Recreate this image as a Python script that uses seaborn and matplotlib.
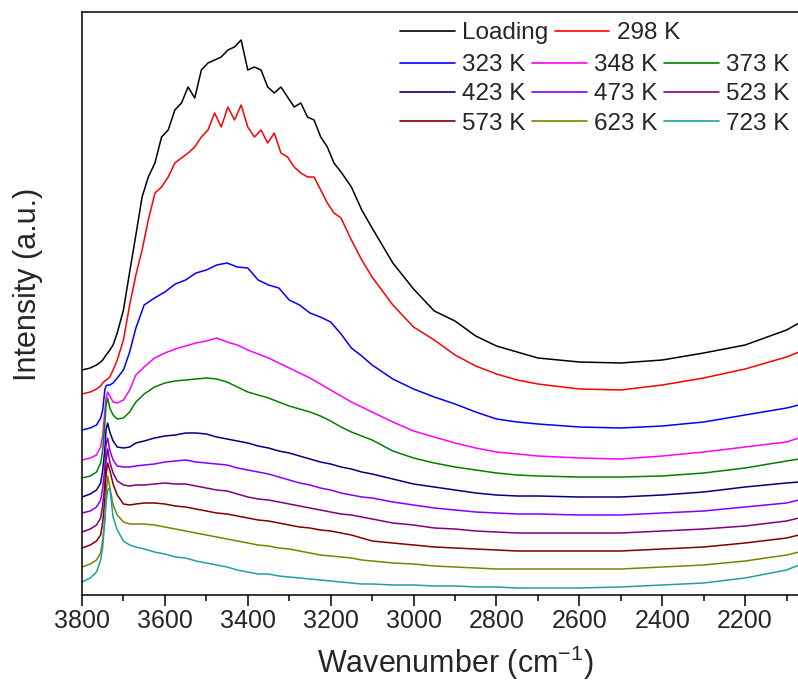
import numpy as np
import pandas as pd
import seaborn as sns
import matplotlib.pyplot as plt
from matplotlib.lines import Line2D
from matplotlib.ticker import MultipleLocator

# wavenumber grid (cm-1) for the two noisy top spectra
wn_top = [3800, 3780, 3765, 3755, 3750, 3745, 3742, 3738, 3733, 3725, 3715, 3700, 3685, 3670,
          3655, 3640, 3624, 3608, 3592, 3576, 3560, 3544, 3528, 3512, 3496, 3480, 3464, 3448,
          3432, 3416, 3400, 3384, 3368, 3352, 3336, 3320, 3304, 3288, 3272, 3256, 3240, 3224,
          3208, 3192, 3175, 3150, 3125, 3100, 3050, 3000, 2950, 2900, 2850, 2800, 2750, 2700,
          2600, 2500, 2400, 2300, 2200, 2100, 2070]
loading = [230, 232, 235, 238, 240, 243, 245, 247, 250, 255, 267, 290, 328, 365, 403,
           423, 437, 463, 470, 490, 497, 513, 502, 530, 537, 540, 543, 550, 553, 560, 530,
           533, 530, 513, 507, 513, 503, 493, 497, 483, 480, 463, 453, 437,
           428, 413, 390, 372, 337, 311, 289, 279, 264, 254, 248, 242, 238, 237, 240, 247,
           255, 270, 277]
t298 = [206, 208, 211, 214, 217, 219, 220, 221, 223, 230, 240, 260, 295, 325, 350,
        380, 407, 413, 423, 437, 442, 447, 453, 463, 470, 487, 473, 493, 480, 495, 473,
        463, 470, 457, 467, 447, 443, 433, 427, 423, 423, 410, 397, 387,
        382, 360, 340, 323, 295, 273, 260, 245, 234, 226, 220, 216, 211, 210, 215, 222,
        231, 243, 248]

# wavenumber grid (cm-1) for the heated spectra
wavenumber = [3800, 3780, 3765, 3755, 3750, 3745, 3742, 3738, 3733, 3725, 3715, 3700, 3685,
              3670, 3650, 3625, 3600, 3575, 3550, 3525, 3500, 3475, 3450, 3425, 3400, 3375,
              3350, 3325, 3300, 3275, 3250, 3225, 3200, 3175, 3150, 3125, 3100, 3050, 3000,
              2950, 2900, 2850, 2800, 2750, 2700, 2600, 2500, 2400, 2300, 2200, 2100, 2070]
t323 = [170, 172, 175, 182, 190, 210, 214, 215, 215, 217, 222, 230, 248, 272, 295, 302, 308,
        316, 320, 327, 330, 335, 337, 333, 332, 320, 315, 312, 300, 295, 287, 283, 278, 266,
        252, 244, 235, 221, 211, 203, 196, 188, 181, 178, 176, 173, 172, 174, 178, 185, 192, 195]
t348 = [140, 142, 145, 153, 165, 188, 202, 208, 204, 198, 197, 200, 210, 225, 233, 242, 247,
        251, 254, 257, 259, 262, 258, 255, 250, 246, 242, 237, 232, 227, 222, 216, 210, 204,
        198, 193, 188, 178, 169, 163, 157, 152, 148, 146, 144, 142, 141, 144, 148, 153, 158, 162]
t373 = [122, 124, 128, 137, 150, 175, 195, 202, 192, 185, 181, 182, 188, 198, 206, 213, 217,
        219, 220, 221, 222, 221, 218, 213, 208, 205, 202, 198, 194, 191, 188, 184, 179, 173,
        168, 164, 160, 149, 142, 137, 133, 130, 127, 125, 124, 123, 123, 124, 127, 132, 139, 141]
t423 = [103, 106, 110, 117, 130, 150, 170, 177, 168, 159, 153, 152, 153, 157, 159, 162, 164,
        165, 167, 167, 166, 163, 161, 159, 157, 154, 152, 149, 147, 144, 141, 138, 136, 133,
        131, 128, 126, 121, 116, 113, 110, 107, 105, 104, 104, 103, 103, 105, 108, 113, 117, 118]
t473 = [87, 89, 93, 100, 112, 132, 155, 162, 150, 140, 134, 133, 133, 134, 135, 136, 138,
        139, 140, 138, 137, 136, 135, 132, 130, 128, 126, 123, 120, 117, 115, 112, 110, 107,
        105, 103, 102, 98, 95, 92, 90, 88, 87, 86, 86, 85, 85, 87, 89, 93, 97, 100]
t523 = [68, 71, 75, 82, 95, 115, 140, 151, 138, 127, 119, 115, 114, 115, 115, 116, 117,
        116, 116, 114, 112, 110, 109, 106, 103, 101, 100, 98, 96, 94, 92, 90, 88, 86,
        85, 83, 81, 77, 75, 72, 71, 69, 68, 67, 67, 67, 67, 69, 71, 74, 79, 82]
t573 = [52, 55, 59, 65, 78, 100, 125, 137, 130, 116, 105, 96, 95, 96, 97, 97, 96,
        94, 93, 91, 89, 87, 86, 84, 82, 80, 79, 77, 75, 73, 72, 70, 69, 67,
        65, 62, 59, 57, 55, 53, 52, 51, 50, 49, 49, 49, 49, 51, 53, 57, 62, 65]
t623 = [33, 36, 40, 47, 60, 80, 105, 124, 113, 95, 85, 78, 76, 76, 76, 75, 73,
        71, 69, 67, 65, 63, 61, 59, 57, 55, 54, 52, 51, 49, 47, 45, 44, 43,
        42, 40, 39, 37, 36, 34, 33, 32, 31, 31, 31, 31, 31, 33, 35, 39, 45, 48]
t723 = [18, 22, 28, 40, 53, 80, 97, 110, 112, 83, 70, 59, 55, 53, 51, 48, 46,
        43, 42, 39, 37, 35, 33, 30, 28, 26, 26, 24, 23, 22, 21, 20, 19, 18,
        17, 16, 16, 15, 15, 14, 14, 13, 13, 12, 12, 12, 13, 15, 17, 22, 30, 35]

labels = ['Loading', '298 K', '323 K', '348 K', '373 K', '423 K',
          '473 K', '523 K', '573 K', '623 K', '723 K']
colors = ['#000000', '#FF0000', '#0000FF', '#FF00FF', '#008000', '#000080',
          '#8000FF', '#800080', '#800000', '#808000', '#20A0A0']
xticks = [3800, 3600, 3400, 3200, 3000, 2800, 2600, 2400, 2200]

top = [loading, t298]
heated = [t323, t348, t373, t423, t473, t523, t573, t623, t723]
df = pd.concat([
    pd.DataFrame({'wavenumber': np.tile(wn_top, len(top)),
                  'intensity': np.concatenate(top),
                  'sample': np.repeat(labels[:2], len(wn_top))}),
    pd.DataFrame({'wavenumber': np.tile(wavenumber, len(heated)),
                  'intensity': np.concatenate(heated),
                  'sample': np.repeat(labels[2:], len(wavenumber))}),
], ignore_index=True)
palette = dict(zip(labels, colors))

sns.set_style('ticks')
plt.rcParams['font.family'] = ['Liberation Sans', 'DejaVu Sans']

fig = plt.figure(figsize=(7.98, 6.91), dpi=100)
# right edge of the axes sits outside the picture, like the cropped original
ax = fig.add_axes([82 / 798, 96 / 691, 746 / 798, 583 / 691])

sns.lineplot(data=df, x='wavenumber', y='intensity', hue='sample', hue_order=labels,
             palette=palette, estimator=None, sort=False, linewidth=1.1, legend=False, ax=ax)

ax.set_xlim(3800, 2000)
ax.set_ylim(5, 588)
ax.set_xticks(xticks)
ax.xaxis.set_minor_locator(MultipleLocator(100))
ax.set_yticks([])
ax.tick_params(axis='x', which='major', direction='out', length=8, width=1.1,
               labelsize=18, pad=2, color='black')
ax.tick_params(axis='x', which='minor', direction='out', length=4.5, width=1.1, color='black')
for sp in ax.spines.values():
    sp.set_visible(True)
    sp.set_linewidth(1.1)
    sp.set_color('black')

ax.set_xlabel('Wavenumber (cm$^{\\mathregular{-1}}$)', fontsize=22, labelpad=8)
ax.set_ylabel('Intensity (a.u.)', fontsize=22)
ax.yaxis.set_label_coords(-0.052, 0.533)

# legend: first row flows freely, the rest sits in a 3-column grid
handles = {lab: Line2D([], [], color=c, lw=1.2) for lab, c in zip(labels, colors)}
leg_kw = dict(frameon=False, fontsize=17.5, loc='upper left', bbox_transform=fig.transFigure,
              borderpad=0, borderaxespad=0, handlelength=2.25, handletextpad=0.32,
              columnspacing=0.25, labelspacing=0.3)
row1 = ['Loading', '298 K']
leg1 = ax.legend([handles[k] for k in row1], row1, ncol=2,
                 bbox_to_anchor=(400 / 798, 1 - 22 / 691), **leg_kw)
ax.add_artist(leg1)
grid = ['323 K', '423 K', '573 K', '348 K', '473 K', '623 K', '373 K', '523 K', '723 K']
ax.legend([handles[k] for k in grid], grid, ncol=3,
          bbox_to_anchor=(400 / 798, 1 - 54 / 691), **leg_kw)

fig.savefig('out.png', dpi=100)
